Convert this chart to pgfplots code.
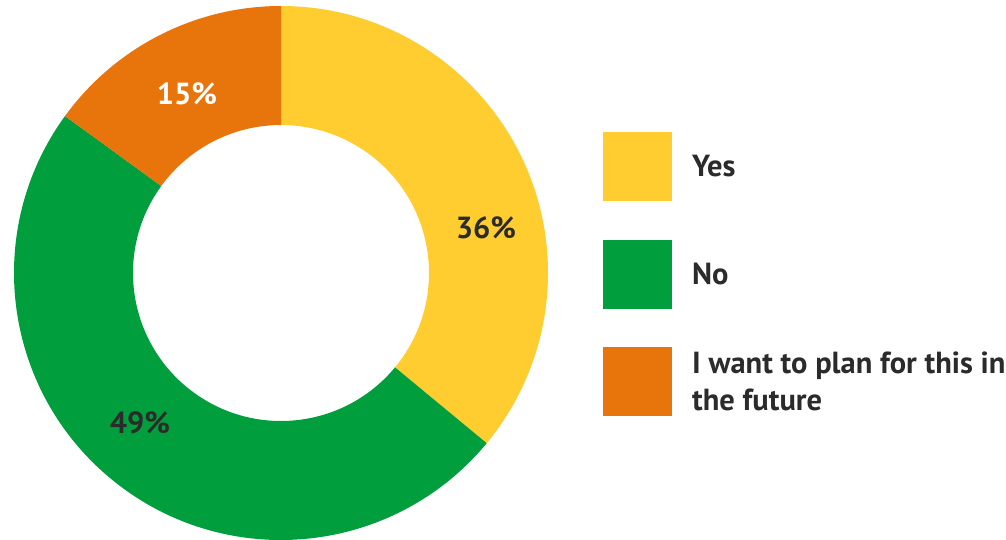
\documentclass[border=0pt]{standalone}
\usepackage{pgfplots}
\pgfplotsset{compat=1.18}
\usepackage{pgfplotstable}
\usepackage{fontspec}
\setmainfont{PT Sans}
\usetikzlibrary{calc}
\definecolor{cyes}{HTML}{FFCD2F}
\definecolor{cno}{HTML}{009E3C}
\definecolor{cplan}{HTML}{E8740C}
\definecolor{ctext}{HTML}{2B2B2B}

\pgfplotstableread{
value color lx ly lcol
36 cyes 486 311 ctext
49 cno 140 116 ctext
15 cplan 187 445 white
}\piedata

\begin{document}
\begin{tikzpicture}
\begin{axis}[x=1pt,y=1pt,xmin=0,xmax=1006,ymin=0,ymax=539,
  hide axis,clip=false,disabledatascaling]
\addplot[draw=none] coordinates {(0,0)};
\pgfplotsextra{
  \coordinate (C) at (axis cs:281,266);
  \gdef\angA{90}
  \foreach \i in {0,1,2}{
    \pgfplotstablegetelem{\i}{value}\of\piedata \let\v\pgfplotsretval
    \pgfplotstablegetelem{\i}{color}\of\piedata \let\col\pgfplotsretval
    \pgfplotstablegetelem{\i}{lx}\of\piedata \let\lx\pgfplotsretval
    \pgfplotstablegetelem{\i}{ly}\of\piedata \let\ly\pgfplotsretval
    \pgfplotstablegetelem{\i}{lcol}\of\piedata \let\lcol\pgfplotsretval
    \pgfmathsetmacro\angB{\angA-3.6*\v}
    \fill[fill=\col] ($(C)+(\angA:267pt)$) arc[start angle=\angA,end angle=\angB,radius=267pt]
      -- ($(C)+(\angB:148pt)$) arc[start angle=\angB,end angle=\angA,radius=148pt] -- cycle;
    \node[text=\lcol,font=\fontsize{30.5}{34}\selectfont\bfseries,inner sep=0pt] at (axis cs:\lx,\ly) {\v\%};
    \xdef\angA{\angB}
  }
  \foreach \c/\t/\y in {cyes/Yes/372.5, cno/No/265, cplan/{I want to plan for this in\\the future}/158}{
    \fill[fill=\c] (axis cs:603,\y-34.5) rectangle (axis cs:672,\y+34.5);
    \node[anchor=west,inner sep=0pt,align=left,text=ctext,font=\fontsize{30.5}{37}\selectfont\bfseries] at (axis cs:692,\y) {\t};
  }
}
\end{axis}
\pgfresetboundingbox
\path (0,0) rectangle (1006pt,539pt);
\end{tikzpicture}
\end{document}
